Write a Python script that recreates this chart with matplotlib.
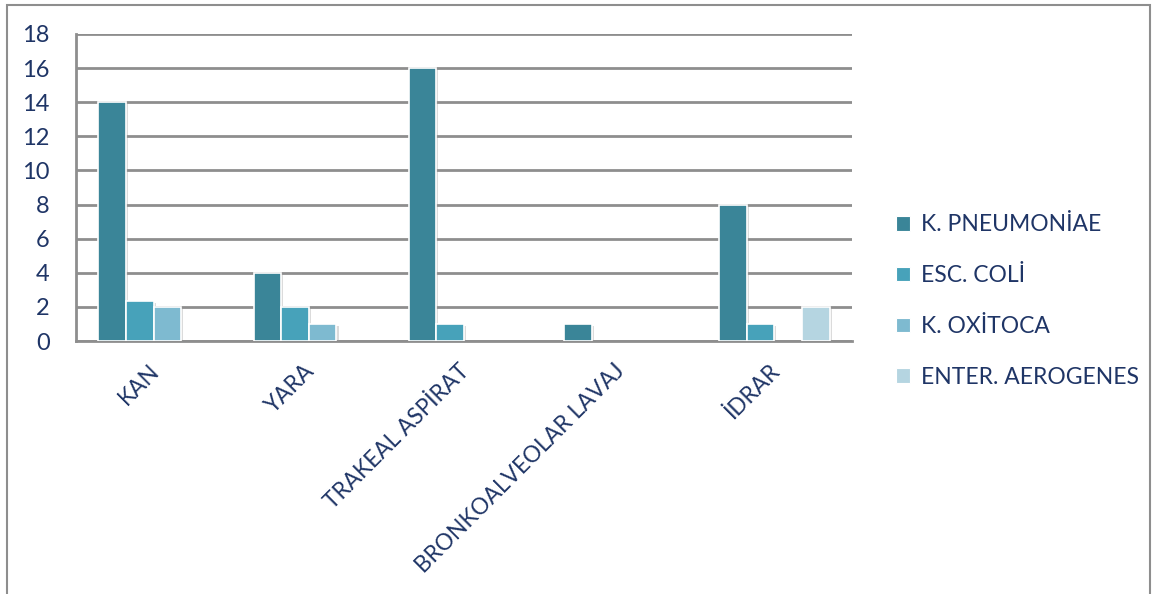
import matplotlib
matplotlib.use("Agg")
import matplotlib.pyplot as plt
import matplotlib.patheffects as pe
import numpy as np
from matplotlib.patches import Rectangle

categories = ["KAN", "YARA", "TRAKEAL ASPİRAT", "BRONKOALVEOLAR LAVAJ", "İDRAR"]
series_names = ["K. PNEUMONİAE", "ESC. COLİ", "K. OXİTOCA", "ENTER. AEROGENES"]
k_pneumoniae = [14, 4, 16, 1, 8]
esc_coli = [2.35, 2, 1, 0, 1]
k_oxitoca = [2, 1, 0, 0, 0]
enter_aerogenes = [0, 0, 0, 0, 2]
yticks = [0, 2, 4, 6, 8, 10, 12, 14, 16, 18]

colors = ["#3A8598", "#47A2BA", "#7EBAD0", "#B5D5E1"]
text_color = "#1F3566"
grid_color = "#8E8E8E"

plt.rcParams['font.family'] = ['Lato', 'DejaVu Sans']

fig = plt.figure(figsize=(11.55, 5.94), dpi=100)
ax = fig.add_axes([76/1155, 1 - 341/594, (852-76)/1155, (341-34)/594])

# outer border
fig.patches.append(Rectangle((7/1155, -0.01), (1150-7)/1155, 1 - 5/594 + 0.01,
                             transform=fig.transFigure, fill=False,
                             edgecolor="#8E8E8E", linewidth=1.5))

x = np.arange(len(categories))
w = 0.178
data = [k_pneumoniae, esc_coli, k_oxitoca, enter_aerogenes]
for i, (vals, c, name) in enumerate(zip(data, colors, series_names)):
    offs = (i - 1.5) * w
    lws = [1.2 if v > 0 else 0 for v in vals]
    bars = ax.bar(x + offs, vals, width=w, color=c, edgecolor="white",
                  linewidth=lws, label=name, zorder=3)
    for b, v in zip(bars, vals):
        if v > 0:
            b.set_path_effects([pe.SimplePatchShadow(offset=(1.5, -1.5), shadow_rgbFace="#999999", alpha=0.35),
                                pe.Normal()])
        else:
            b.set_visible(False)

ax.set_xlim(-0.5, len(categories) - 0.5)
ax.set_ylim(0, 18)
ax.set_yticks(yticks)
ax.yaxis.grid(True, color=grid_color, linewidth=2, zorder=0)
ax.set_axisbelow(True)
for s in ["top", "right"]:
    ax.spines[s].set_visible(False)
ax.spines["left"].set_color(grid_color)
ax.spines["left"].set_linewidth(2)
ax.spines["bottom"].set_color(grid_color)
ax.spines["bottom"].set_linewidth(2)
ax.tick_params(axis='y', length=0, pad=19, labelsize=17, labelcolor=text_color)
ax.tick_params(axis='x', length=0, pad=14, labelsize=16.3, labelcolor=text_color)
ax.set_xticks(x - 0.035)
ax.set_xticklabels(categories, rotation=45, ha='right', rotation_mode='anchor')

handles = [plt.Rectangle((0, 0), 1, 1, facecolor=c, edgecolor="white", linewidth=0.8) for c in colors]
leg = fig.legend(handles, series_names, loc='center left', bbox_to_anchor=(885/1155, 1 - 301/594),
                 frameon=False, fontsize=16.5, labelcolor=text_color, borderpad=0,
                 handlelength=0.6, handleheight=0.6, handletextpad=0.45, labelspacing=1.3)

fig.savefig("out.png", dpi=100)
